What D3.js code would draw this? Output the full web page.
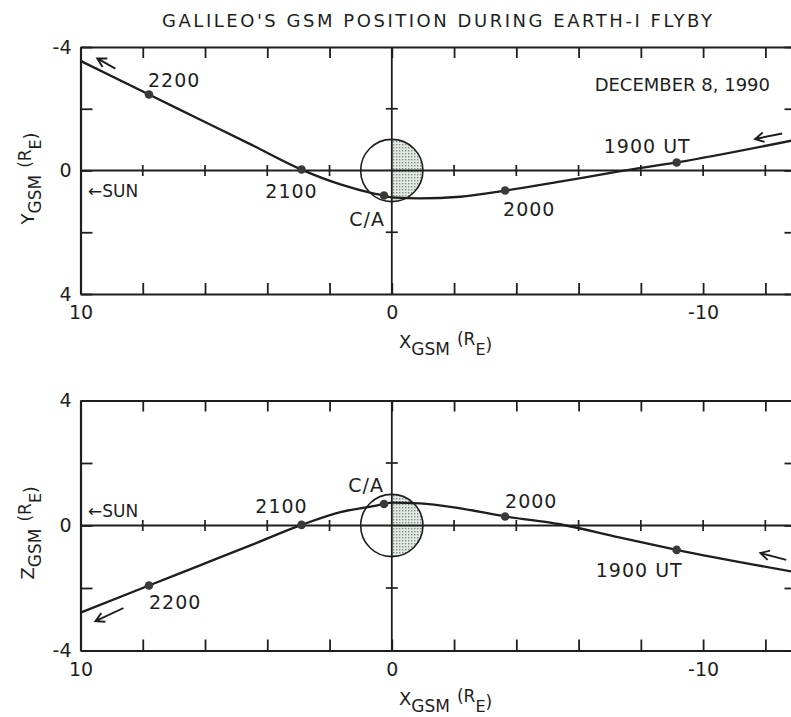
<!DOCTYPE html>
<html>
<head>
<meta charset="utf-8">
<script src="https://cdnjs.cloudflare.com/ajax/libs/d3/7.8.5/d3.min.js"></script>
<style>
body { margin: 0; background: #fff; }
svg text { font-family: "DejaVu Sans", sans-serif; fill: #1e1e1e; }
.tick line, .domain { stroke: #1e1e1e; }
</style>
</head>
<body>
<svg id="chart" width="791" height="717"></svg>
<script>
// trajectory samples, in Earth radii
const xGsm = [10, 7.8, 6.2, 4.5, 2.9, 1.65, 0.6, 0.25, 0, -0.9, -2.2, -3.64, -5.4, -7.3, -9.15, -13];
const yGsm = [-3.55, -2.46, -1.67, -0.83, -0.03, 0.45, 0.74, 0.81, 0.87, 0.9, 0.85, 0.65, 0.36, 0.03, -0.26, -1.0];
const zGsm = [-2.79, -1.92, -1.29, -0.62, 0.02, 0.43, 0.62, 0.69, 0.73, 0.71, 0.55, 0.29, 0.04, -0.38, -0.78, -1.5];

// hourly marks and closest approach
const markLabels = ["2200", "2100", "C/A", "2000", "1900 UT"];
const markX = [7.8, 2.9, 0.25, -3.64, -9.15];
const markY = [-2.46, -0.03, 0.81, 0.65, -0.26];
const markZ = [-1.92, 0.02, 0.69, 0.29, -0.78];

// direction-of-motion arrows [x1, v1, x2, v2] (head at the 2nd point)
const arrowsY = [[8.88, -3.30, 9.46, -3.63], [-12.54, -1.2, -11.67, -1.02]];
const arrowsZ = [[8.62, -2.64, 9.52, -3.06], [-12.67, -1.10, -11.84, -0.88]];

const xTickValues = d3.range(10, -13, -2);
const xTickLabels = [10, 0, -10];
const vTickValues = [-4, -2, 0, 2, 4];
const vTickLabels = [-4, 0, 4];

const svg = d3.select("#chart");
const ink = "#1e1e1e";

const x = d3.scaleLinear().domain([10, -13]).range([80.5, 796.5]);

// stipple for the night side of the Earth
const defs = svg.append("defs");
const pat = defs.append("pattern")
    .attr("id", "stip")
    .attr("width", 3).attr("height", 3)
    .attr("patternUnits", "userSpaceOnUse");
pat.append("rect").attr("width", 3).attr("height", 3).attr("fill", "#e2eae3");
pat.append("rect").attr("width", 1.4).attr("height", 1.4).attr("fill", "#7e8f86");

svg.append("text")
    .attr("x", 162).attr("y", 27)
    .attr("font-size", 18)
    .attr("textLength", 550)
    .attr("lengthAdjust", "spacing")
    .text("GALILEO'S GSM POSITION DURING EARTH-I FLYBY");

const panels = [
    {
        axis: "Y", vals: yGsm, marks: markY, arrows: arrowsY,
        domain: [-4, 4], top: 47, bottom: 294,
        // label offsets from each dot: dx, dy, anchor
        offsets: [[-1, -8, "start"], [-10, 28, "middle"], [1, 30, "end"], [-2, 25, "start"], [14, -9.5, "end"]],
        sunDy: 26
    },
    {
        axis: "Z", vals: zGsm, marks: markZ, arrows: arrowsZ,
        domain: [4, -4], top: 400.5, bottom: 650.5,
        offsets: [[0, 23, "start"], [-20, -12, "middle"], [0, -12, "end"], [0, -8, "start"], [6, 27, "end"]],
        sunDy: -9
    }
];

panels.forEach(p => {
    const v = d3.scaleLinear().domain(p.domain).range([p.top, p.bottom]);
    const g = svg.append("g");
    const r = x(-1) - x(0);
    const cx = x(0), cy = v(0);

    // earth: shaded night half first, lines go over it
    g.append("path")
        .attr("d", `M${cx},${cy - r} A${r},${r} 0 0 1 ${cx},${cy + r} Z`)
        .attr("fill", "url(#stip)");

    // frame axes
    const styleAxis = sel => {
        sel.attr("font-size", null).attr("font-family", null);
        sel.select(".domain").attr("stroke-width", 2.2);
        sel.selectAll(".tick line").attr("stroke-width", 1.8);
        sel.selectAll(".tick text").attr("font-size", 19).attr("fill", ink);
    };
    g.append("g")
        .attr("transform", `translate(0,${p.bottom})`)
        .call(d3.axisBottom(x).tickValues(xTickValues).tickSizeInner(-11).tickSizeOuter(0)
            .tickPadding(12).tickFormat(d => xTickLabels.includes(d) ? d : ""))
        .call(styleAxis);
    g.append("g")
        .attr("transform", `translate(0,${p.top})`)
        .call(d3.axisTop(x).tickValues(xTickValues).tickSizeInner(-11).tickSizeOuter(0).tickFormat(""))
        .call(styleAxis);
    g.append("g")
        .attr("transform", `translate(${x(10)},0)`)
        .call(d3.axisLeft(v).tickValues(vTickValues).tickSizeInner(-12).tickSizeOuter(0)
            .tickPadding(9).tickFormat(d => vTickLabels.includes(d) ? d : ""))
        .call(styleAxis);
    g.append("g")
        .attr("transform", `translate(${x(-13)},0)`)
        .call(d3.axisRight(v).tickValues(vTickValues).tickSizeInner(-12).tickSizeOuter(0).tickFormat(""))
        .call(styleAxis);

    // centre lines with crossing ticks
    g.append("line")
        .attr("x1", x(10)).attr("x2", x(-13))
        .attr("y1", v(0)).attr("y2", v(0))
        .attr("stroke", ink).attr("stroke-width", 1.8);
    g.append("line")
        .attr("x1", x(0)).attr("x2", x(0))
        .attr("y1", p.top).attr("y2", p.bottom)
        .attr("stroke", ink).attr("stroke-width", 1.8);
    g.selectAll(".hx")
        .data(xTickValues.filter(d => d !== 10 && d !== 0))
        .join("line")
        .attr("x1", d => x(d)).attr("x2", d => x(d))
        .attr("y1", v(0) - 5.5).attr("y2", v(0) + 5.5)
        .attr("stroke", ink).attr("stroke-width", 1.7);
    g.selectAll(".vx")
        .data([-2, 2])
        .join("line")
        .attr("x1", x(0) - 6).attr("x2", x(0) + 6)
        .attr("y1", d => v(d)).attr("y2", d => v(d))
        .attr("stroke", ink).attr("stroke-width", 1.7);

    // earth outline
    g.append("circle")
        .attr("cx", cx).attr("cy", cy).attr("r", r)
        .attr("fill", "none").attr("stroke", ink).attr("stroke-width", 1.6);

    // trajectory
    const line = d3.line()
        .x(i => x(xGsm[i]))
        .y(i => v(p.vals[i]))
        .curve(d3.curveMonotoneX);
    g.append("path")
        .attr("d", line(d3.range(xGsm.length)))
        .attr("fill", "none")
        .attr("stroke", ink)
        .attr("stroke-width", 2.3);

    g.selectAll(".mark")
        .data(markX)
        .join("circle")
        .attr("cx", d => x(d))
        .attr("cy", (d, i) => v(p.marks[i]))
        .attr("r", 4.3)
        .attr("fill", "#3a3a3a");

    g.selectAll(".mlab")
        .data(markLabels)
        .join("text")
        .attr("x", (d, i) => x(markX[i]) + p.offsets[i][0])
        .attr("y", (d, i) => v(p.marks[i]) + p.offsets[i][1])
        .attr("text-anchor", (d, i) => p.offsets[i][2])
        .attr("font-size", 19)
        .attr("letter-spacing", 1)
        .text(d => d);

    // motion arrows
    p.arrows.forEach(a => {
        const x1 = x(a[0]), y1 = v(a[1]), x2 = x(a[2]), y2 = v(a[3]);
        const ang = Math.atan2(y2 - y1, x2 - x1);
        const hl = 10, spread = 0.5;
        g.append("path")
            .attr("d", `M${x1},${y1}L${x2},${y2}` +
                `M${x2 - hl * Math.cos(ang - spread)},${y2 - hl * Math.sin(ang - spread)}L${x2},${y2}` +
                `L${x2 - hl * Math.cos(ang + spread)},${y2 - hl * Math.sin(ang + spread)}`)
            .attr("fill", "none").attr("stroke", ink).attr("stroke-width", 1.9);
    });

    g.append("text")
        .attr("x", 88).attr("y", v(0) + p.sunDy)
        .attr("font-size", 17)
        .text("\u2190SUN");

    // axis titles
    const xt = g.append("text")
        .attr("x", 399).attr("y", p.bottom + 54)
        .attr("font-size", 18);
    xt.append("tspan").text("X");
    xt.append("tspan").attr("dy", 7).attr("font-size", 17).text("GSM");
    xt.append("tspan").attr("dx", 7).attr("dy", -10).attr("font-size", 17).text("(R");
    xt.append("tspan").attr("dy", 10).attr("font-size", 16).text("E");
    xt.append("tspan").attr("dy", -4).attr("font-size", 17).text(")");

    const vt = g.append("text")
        .attr("transform", `translate(34,${v(0) + 54}) rotate(-90)`)
        .attr("font-size", 18);
    vt.append("tspan").text(p.axis);
    vt.append("tspan").attr("dy", 7).attr("font-size", 17).text("GSM");
    vt.append("tspan").attr("dx", 7).attr("dy", -10).attr("font-size", 17).text("(R");
    vt.append("tspan").attr("dy", 10).attr("font-size", 16).text("E");
    vt.append("tspan").attr("dy", -4).attr("font-size", 17).text(")");
});

svg.append("text")
    .attr("x", 770).attr("y", 91)
    .attr("text-anchor", "end")
    .attr("font-size", 18)
    .text("DECEMBER 8, 1990");
</script>
</body>
</html>
